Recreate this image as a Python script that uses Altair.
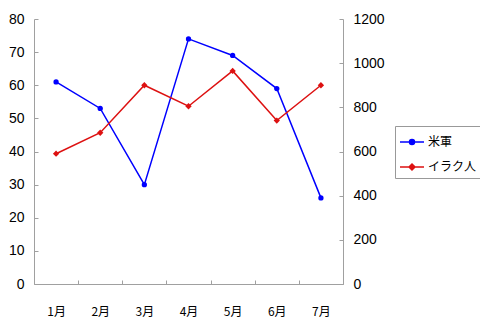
import altair as alt
import pandas as pd

months = ["1月", "2月", "3月", "4月", "5月", "6月", "7月"]
us_values = [61, 53, 30, 74, 69, 59, 26]
iraq_values = [590, 685, 900, 805, 965, 740, 900]
series_names = ["米軍", "イラク人"]
series_colors = ["#0000ff", "#dd1111"]
left_ticks = [0, 10, 20, 30, 40, 50, 60, 70, 80]
right_ticks = [0, 200, 400, 600, 800, 1000, 1200]

df_us = pd.DataFrame({"month": months, "value": us_values, "series": series_names[0]})
df_iq = pd.DataFrame({"month": months, "value": iraq_values, "series": series_names[1]})

AXIS_COLOR = "#a0a0a0"
NUM_FONT = "Liberation Sans"

legend_shapes = [
    "M-1.2,0H1.2M-0.25,0A0.25,0.25 0 1,0 0.25,0A0.25,0.25 0 1,0 -0.25,0Z",
    "M-1.2,0H1.2M0,-0.3L0.3,0L0,0.3L-0.3,0Z",
]

x_enc = alt.X(
    "month:N",
    sort=months,
    scale=alt.Scale(paddingInner=0, paddingOuter=0),
    axis=alt.Axis(
        title=None, labelAngle=0, tickBand="extent", grid=False,
        domainColor=AXIS_COLOR, tickColor=AXIS_COLOR, tickSize={"expr": "-4"},
        labelPadding=26, labelFont="Noto Sans CJK JP", labelFontSize=12,
        labelColor="#000000",
    ),
)

left = alt.Chart(df_us).mark_line(
    strokeWidth=1.5, color=series_colors[0],
    point=alt.OverlayMarkDef(shape="circle", size=28, filled=True, color=series_colors[0], opacity=1),
).encode(
    x=x_enc,
    y=alt.Y(
        "value:Q",
        scale=alt.Scale(domain=[0, 80], nice=False),
        axis=alt.Axis(
            title=None, values=left_ticks, grid=False, orient="left",
            domainColor=AXIS_COLOR, tickColor=AXIS_COLOR, tickSize={"expr": "-4"},
            labelPadding=14, labelFont=NUM_FONT, labelFontSize=14, labelColor="#000000",
        ),
    ),
)

right = alt.Chart(df_iq).mark_line(
    strokeWidth=1.5, color=series_colors[1],
    point=alt.OverlayMarkDef(shape="diamond", size=40, filled=True, color=series_colors[1], opacity=1),
).encode(
    x=x_enc,
    y=alt.Y(
        "value:Q",
        scale=alt.Scale(domain=[0, 1200], nice=False),
        axis=alt.Axis(
            title=None, values=right_ticks, grid=False, orient="right", format="d",
            domainColor=AXIS_COLOR, tickColor=AXIS_COLOR, tickSize={"expr": "-4"},
            labelPadding=14, labelFont=NUM_FONT, labelFontSize=14, labelColor="#000000",
        ),
    ),
)

leg = alt.Legend(
    title=None, orient="none", legendX=361, legendY=107,
    strokeColor="#999999", padding=5, rowPadding=8,
    symbolSize=400, symbolStrokeWidth=1.5, symbolOpacity=1, symbolOffset=1,
    labelFontSize=12, labelFont="Noto Sans CJK JP",
    labelColor="#000000", labelOffset=5,
)

legend_layer = alt.Chart(df_us).transform_filter("false").mark_point(
    filled=True, strokeWidth=1.5, opacity=1
).encode(
    x=alt.X("month:N", sort=months),
    fill=alt.Fill("series:N", scale=alt.Scale(domain=series_names, range=series_colors), legend=leg),
    stroke=alt.Stroke("series:N", scale=alt.Scale(domain=series_names, range=series_colors), legend=leg),
    shape=alt.Shape("series:N", scale=alt.Scale(domain=series_names, range=legend_shapes), legend=leg),
)

chart = (
    alt.layer(left, right, legend_layer)
    .resolve_scale(y="independent")
    .properties(
        width=309, height=265,
        autosize=alt.AutoSizeParams(type="none"),
        padding={"left": 34, "top": 19, "right": 137, "bottom": 48},
        background="#ffffff",
    )
    .configure_view(stroke=None)
)

chart.save("out.html", embed_options={"renderer": "svg", "actions": False})
